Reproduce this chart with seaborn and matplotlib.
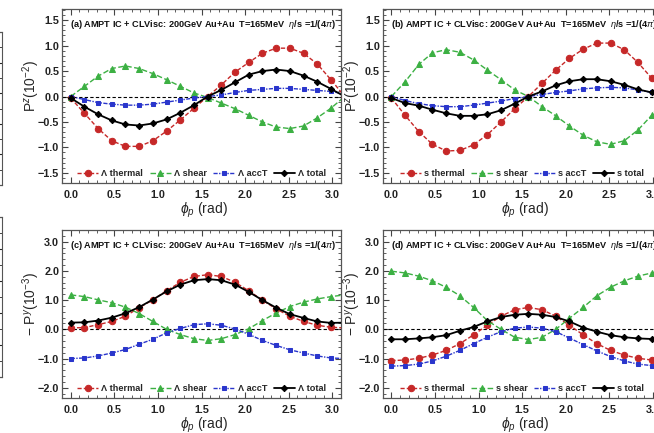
import matplotlib
matplotlib.use("Agg")
import matplotlib.pyplot as plt
from matplotlib.ticker import MultipleLocator
import seaborn as sns
import numpy as np

# azimuthal angle phi_p (rad), k*pi/20
phi = [0.0, 0.157, 0.314, 0.471, 0.628, 0.785, 0.942, 1.100, 1.257, 1.414, 1.571,
       1.728, 1.885, 2.042, 2.199, 2.356, 2.513, 2.670, 2.827, 2.985, 3.142]

# (a) Lambda, P^z (10^-2)
lam_pz_thermal = [-0.03, -0.33, -0.63, -0.87, -0.98, -0.98, -0.87, -0.68, -0.46, -0.23, 0.0,
                  0.23, 0.48, 0.67, 0.85, 0.95, 0.95, 0.85, 0.64, 0.33, 0.0]
lam_pz_shear = [0.0, 0.20, 0.40, 0.55, 0.60, 0.55, 0.45, 0.33, 0.20, 0.07, -0.02,
                -0.13, -0.24, -0.37, -0.50, -0.60, -0.63, -0.58, -0.42, -0.23, 0.0]
lam_pz_acct = [0.0, -0.06, -0.12, -0.15, -0.17, -0.17, -0.15, -0.11, -0.07, -0.03, 0.0,
               0.03, 0.08, 0.12, 0.14, 0.16, 0.16, 0.14, 0.12, 0.10, 0.05]
lam_pz_total = [-0.03, -0.20, -0.35, -0.47, -0.55, -0.57, -0.53, -0.45, -0.32, -0.17, 0.0,
                0.13, 0.28, 0.43, 0.50, 0.53, 0.50, 0.41, 0.29, 0.15, 0.0]

# (b) s quark, P^z (10^-2)
s_pz_thermal = [-0.03, -0.37, -0.69, -0.94, -1.07, -1.06, -0.95, -0.75, -0.50, -0.24, 0.0,
                0.26, 0.52, 0.75, 0.93, 1.05, 1.05, 0.92, 0.67, 0.36, 0.02]
s_pz_shear = [0.0, 0.29, 0.63, 0.86, 0.92, 0.87, 0.72, 0.52, 0.33, 0.13, 0.0,
              -0.20, -0.38, -0.58, -0.76, -0.89, -0.94, -0.87, -0.66, -0.37, 0.0]
s_pz_acct = [0.0, -0.08, -0.14, -0.18, -0.20, -0.20, -0.17, -0.13, -0.09, -0.04, 0.0,
             0.04, 0.08, 0.11, 0.15, 0.17, 0.18, 0.17, 0.13, 0.08, 0.04]
s_pz_total = [-0.03, -0.13, -0.18, -0.26, -0.33, -0.38, -0.38, -0.35, -0.27, -0.14, 0.0,
              0.10, 0.22, 0.30, 0.34, 0.34, 0.30, 0.23, 0.14, 0.08, 0.04]

# (c) Lambda, -P^y (10^-3)
lam_py_thermal = [0.05, 0.06, 0.16, 0.27, 0.45, 0.74, 1.01, 1.32, 1.61, 1.81, 1.87,
                  1.81, 1.61, 1.32, 1.00, 0.70, 0.45, 0.27, 0.14, 0.07, 0.05]
lam_py_shear = [1.18, 1.12, 1.01, 0.91, 0.76, 0.54, 0.27, 0.0, -0.18, -0.32, -0.38,
                -0.32, -0.18, 0.02, 0.30, 0.56, 0.78, 0.93, 1.04, 1.12, 1.18]
lam_py_acct = [-1.0, -0.98, -0.91, -0.81, -0.69, -0.51, -0.34, -0.12, 0.03, 0.16, 0.19,
               0.14, 0.01, -0.17, -0.38, -0.55, -0.70, -0.81, -0.91, -0.98, -1.0]
lam_py_total = [0.23, 0.24, 0.30, 0.40, 0.55, 0.76, 1.02, 1.30, 1.53, 1.68, 1.72,
                1.68, 1.53, 1.28, 1.00, 0.74, 0.52, 0.39, 0.27, 0.22, 0.23]

# (d) s quark, -P^y (10^-3)
s_py_thermal = [-1.07, -1.05, -0.99, -0.88, -0.72, -0.49, -0.19, 0.14, 0.45, 0.67, 0.75,
                0.67, 0.45, 0.14, -0.19, -0.49, -0.72, -0.88, -0.99, -1.05, -1.07]
s_py_shear = [1.99, 1.93, 1.82, 1.66, 1.44, 1.15, 0.75, 0.30, 0.0, -0.27, -0.35,
              -0.27, 0.0, 0.38, 0.75, 1.15, 1.44, 1.66, 1.82, 1.93, 1.99]
s_py_acct = [-1.26, -1.24, -1.19, -1.08, -0.92, -0.72, -0.49, -0.27, -0.08, 0.04, 0.08,
             0.04, -0.08, -0.30, -0.52, -0.74, -0.93, -1.08, -1.19, -1.24, -1.26]
s_py_total = [-0.34, -0.34, -0.31, -0.27, -0.20, -0.05, 0.08, 0.27, 0.42, 0.50, 0.53,
              0.50, 0.42, 0.27, 0.06, -0.08, -0.20, -0.27, -0.31, -0.33, -0.34]

components = ["thermal", "shear", "accT", "total"]
title_text = (r"AMPT IC + CLVisc: 200GeV Au+Au  T=165MeV  $\mathit{\eta}$/s =1/(4$\mathit{\pi}$)")

sns.set_style("ticks")
plt.rcParams["font.family"] = ["Liberation Sans", "DejaVu Sans"]
plt.rcParams["mathtext.fontset"] = "custom"
plt.rcParams["mathtext.rm"] = "Liberation Sans"
plt.rcParams["mathtext.it"] = "Liberation Sans:italic"
plt.rcParams["mathtext.bf"] = "Liberation Sans:bold"

styles = {
    "thermal": dict(color="#c62828", marker="o", ms=4.6, ls=(0, (3, 1.5)), lw=1.0),
    "shear": dict(color="#3cb043", marker="^", ms=4.0, ls=(0, (4, 1.8)), lw=1.0),
    "accT": dict(color="#2a36cc", marker="s", ms=3.2, ls=(0, (3, 1, 1, 1)), lw=1.0),
    "total": dict(color="black", marker="D", ms=3.2, ls="-", lw=1.3),
}

fig = plt.figure(figsize=(6.54, 4.33), dpi=100)
W, H = 654.0, 433.0


def px_axes(left, top, width, height):
    return fig.add_axes([left / W, 1 - (top + height) / H, width / W, height / H])


def style_frame(ax, ymajor, yminor):
    ax.xaxis.set_major_locator(MultipleLocator(0.5))
    ax.xaxis.set_minor_locator(MultipleLocator(0.1))
    ax.yaxis.set_major_locator(MultipleLocator(ymajor))
    ax.yaxis.set_minor_locator(MultipleLocator(yminor))
    ax.tick_params(which="both", direction="in", top=True, right=True, color="#444444")
    ax.tick_params(which="major", length=4, width=0.8)
    ax.tick_params(which="minor", length=2, width=0.6)
    for sp in ax.spines.values():
        sp.set_color("#555555")
        sp.set_linewidth(0.9)


def draw_panel(ax, tag, particle, series, ylim, ymajor, yminor, ylabel, xlab_y, ylab_y):
    for comp, vals in zip(components, series):
        st = styles[comp]
        sns.lineplot(x=phi, y=vals, ax=ax, color=st["color"], marker=st["marker"],
                     markersize=st["ms"], markeredgecolor=st["color"],
                     markerfacecolor=st["color"], linestyle=st["ls"], linewidth=st["lw"],
                     label=f"{particle} {comp}", zorder=3 if comp != "total" else 4)
    ax.axhline(0, color="black", ls=(0, (3, 2)), lw=0.8, zorder=2)
    ax.set_xlim(-0.1, 3.1)
    ax.set_ylim(*ylim)
    style_frame(ax, ymajor, yminor)
    ax.set_yticklabels([f"{t:.1f}".replace("-", "\u2212") for t in ax.get_yticks()])
    ax.set_xticklabels([f"{t:.1f}" for t in ax.get_xticks()])
    for lab in ax.get_xticklabels() + ax.get_yticklabels():
        lab.set_fontweight("bold")
        lab.set_fontsize(7.8)
        lab.set_color("#222222")
    ax.tick_params(axis="x", pad=5)
    ax.tick_params(axis="y", pad=2)
    ax.set_xlabel(r"$\mathit{\phi_p}$ (rad)", fontsize=10)
    ax.set_ylabel(ylabel, fontsize=10)
    ax.xaxis.set_label_coords(0.51, xlab_y)
    ax.yaxis.set_label_coords(-0.072, ylab_y)
    ax.text(0.03, 0.91, f"({tag}) " + title_text, transform=ax.transAxes,
            fontsize=6.6, fontweight="bold", ha="left", va="center", color="#111111")
    ax.legend(loc="lower center", bbox_to_anchor=(0.5, -0.005), ncol=4, frameon=False,
              prop={"weight": "bold", "size": 6.6}, handlelength=2.3, handletextpad=0.35,
              columnspacing=0.7, borderaxespad=0.2)


# fragments of the neighbouring panels at the far left
for top, height in [(32, 153), (217, 160)]:
    axf = px_axes(2 - 279, top, 279, height)
    axf.set_xticks([])
    axf.yaxis.set_minor_locator(MultipleLocator(0.1))
    axf.set_ylim(0, 1)
    axf.tick_params(which="both", direction="in", left=False, right=True,
                    labelleft=False, length=2)
    for sp in axf.spines.values():
        sp.set_color("#555555")

ax_a = px_axes(62, 9, 279, 174)
ax_b = px_axes(382.7, 9, 279, 174)
ax_c = px_axes(62, 230, 279, 168)
ax_d = px_axes(382.7, 230, 279, 168)

pz_label = r"P$^{z}$(10$^{-2}$)"
py_label = "\u2212 " + r"P$^{y}$(10$^{-3}$)"

draw_panel(ax_a, "a", "\u039b", [lam_pz_thermal, lam_pz_shear, lam_pz_acct, lam_pz_total],
           (-1.7, 1.72), 0.5, 0.1, pz_label, -0.10, 0.56)
draw_panel(ax_b, "b", "s", [s_pz_thermal, s_pz_shear, s_pz_acct, s_pz_total],
           (-1.7, 1.72), 0.5, 0.1, pz_label, -0.10, 0.56)
draw_panel(ax_c, "c", "\u039b", [lam_py_thermal, lam_py_shear, lam_py_acct, lam_py_total],
           (-2.35, 3.4), 1.0, 0.2, py_label, -0.108, 0.56)
draw_panel(ax_d, "d", "s", [s_py_thermal, s_py_shear, s_py_acct, s_py_total],
           (-2.35, 3.4), 1.0, 0.2, py_label, -0.108, 0.56)

fig.savefig("out.png", dpi=100)
